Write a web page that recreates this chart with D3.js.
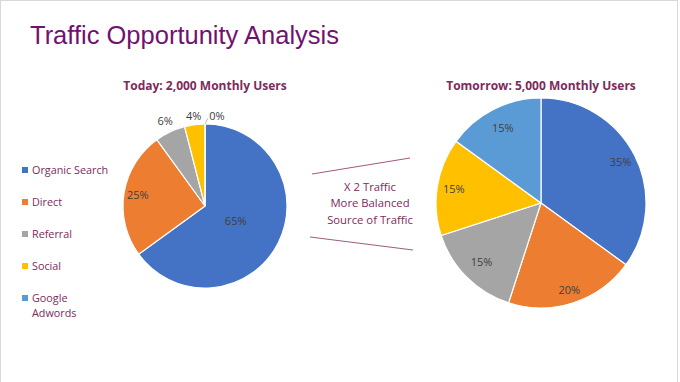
<!DOCTYPE html>
<meta charset="utf-8">
<style>
    body { margin: 0; background: #fff; }
    svg { display: block; }
    text { font-family: "Open Sans", "Noto Sans", sans-serif; }
</style>
<body>
<div id="main"></div>
<script src="https://cdn.jsdelivr.net/npm/d3@7/dist/d3.min.js"></script>
<script>
    var categories = ["Organic Search", "Direct", "Referral", "Social", "Google Adwords"];
    var todayValues = [65, 25, 6, 4, 0];
    var tomorrowValues = [35, 20, 15, 15, 15];
    var todayTitle = "Today: 2,000 Monthly Users";
    var tomorrowTitle = "Tomorrow: 5,000 Monthly Users";
    var middleText = ["X 2 Traffic", "More Balanced", "Source of Traffic"];
    var legendLines = [["Organic Search"], ["Direct"], ["Referral"], ["Social"], ["Google", "Adwords"]];

    var colors = ["#4472C4", "#ED7D31", "#A5A5A5", "#FFC000", "#5B9BD5"];
    var maroon = "#7E2A5C";

    var width = 680, height = 382;

    var svg = d3.select("#main").append("svg")
            .attr("width", width)
            .attr("height", height);

    // slide frame
    svg.append("rect")
            .attr("x", 0.5).attr("y", 0.5)
            .attr("width", 677).attr("height", height + 5)
            .attr("fill", "none")
            .attr("stroke", "#d9d9d9");

    svg.append("text")
            .attr("x", 30).attr("y", 44)
            .style("font-family", "'Liberation Sans', Arial, sans-serif")
            .style("font-size", "25.5px")
            .attr("fill", "#70136F")
            .text("Traffic Opportunity Analysis");

    var color = d3.scaleOrdinal().domain(categories).range(colors);

    var pie = d3.pie().sort(null).value(function(d) { return d.value; });

    function makePie(values, title, cx, cy, r, labelRatio) {
        var data = categories.map(function(c, i) { return {name: c, value: values[i]}; });
        var arcs = pie(data);
        var arc = d3.arc().innerRadius(0).outerRadius(r);

        svg.append("text")
                .attr("x", cx).attr("y", 90)
                .attr("text-anchor", "middle")
                .style("font-size", "12px")
                .style("font-weight", "bold")
                .attr("fill", maroon)
                .text(title);

        var g = svg.append("g").attr("transform", "translate(" + cx + "," + cy + ")");

        g.selectAll("path").data(arcs).enter().append("path")
                .attr("d", arc)
                .attr("fill", function(d) { return color(d.data.name); })
                .attr("stroke", "#fff")
                .attr("stroke-width", 1.2);

        g.selectAll("text.lbl").data(arcs).enter().append("text")
                .attr("class", "lbl")
                .attr("transform", function(d, i) {
                    var k = labelRatio[i];
                    var a = (d.startAngle + d.endAngle) / 2;
                    if (d.endAngle - d.startAngle < 0.01) {
                        return "translate(" + (12) + "," + (-r - 8) + ")";
                    }
                    return "translate(" + (Math.sin(a) * r * k) + "," + (-Math.cos(a) * r * k) + ")";
                })
                .attr("text-anchor", "middle")
                .attr("dy", "0.35em")
                .style("font-size", "11px")
                .attr("fill", "#404040")
                .text(function(d) { return d.data.value + "%"; });

        // leader line for zero slice
        g.selectAll("line.leader").data(arcs.filter(function(d) { return d.endAngle - d.startAngle < 0.01; }))
                .enter().append("line")
                .attr("x1", 0).attr("y1", -r)
                .attr("x2", 3).attr("y2", -r - 6)
                .attr("stroke", "#bfbfbf")
                .attr("stroke-width", 1);
    }

    makePie(todayValues, todayTitle, 205, 206, 82, [0.42, 0.83, 1.14, 1.11, 1.1]);
    makePie(tomorrowValues, tomorrowTitle, 541, 203, 105, [0.85, 0.87, 0.8, 0.84, 0.8]);

    // legend
    var legend = svg.append("g");
    var ly = d3.scalePoint().domain(categories).range([170, 298]);
    legendLines.forEach(function(lines, i) {
        var y = ly(categories[i]);
        legend.append("rect")
                .attr("x", 22).attr("y", y - 3)
                .attr("width", 6).attr("height", 6)
                .attr("fill", colors[i]);
        lines.forEach(function(t, j) {
            legend.append("text")
                    .attr("x", 32).attr("y", y + j * 15)
                    .attr("dy", "0.35em")
                    .style("font-size", "10.8px")
                    .attr("fill", maroon)
                    .text(t);
        });
    });

    // middle callout
    svg.append("line").attr("x1", 312).attr("y1", 174).attr("x2", 410).attr("y2", 158)
            .attr("stroke", "#9e5a82").attr("stroke-width", 1);
    svg.append("line").attr("x1", 310).attr("y1", 237).attr("x2", 413).attr("y2", 250)
            .attr("stroke", "#9e5a82").attr("stroke-width", 1);
    middleText.forEach(function(t, i) {
        svg.append("text")
                .attr("x", 370).attr("y", 187 + i * 16.5)
                .attr("dy", "0.35em")
                .attr("text-anchor", "middle")
                .style("font-size", "11.3px")
                .attr("fill", maroon)
                .text(t);
    });
</script>
</body>
